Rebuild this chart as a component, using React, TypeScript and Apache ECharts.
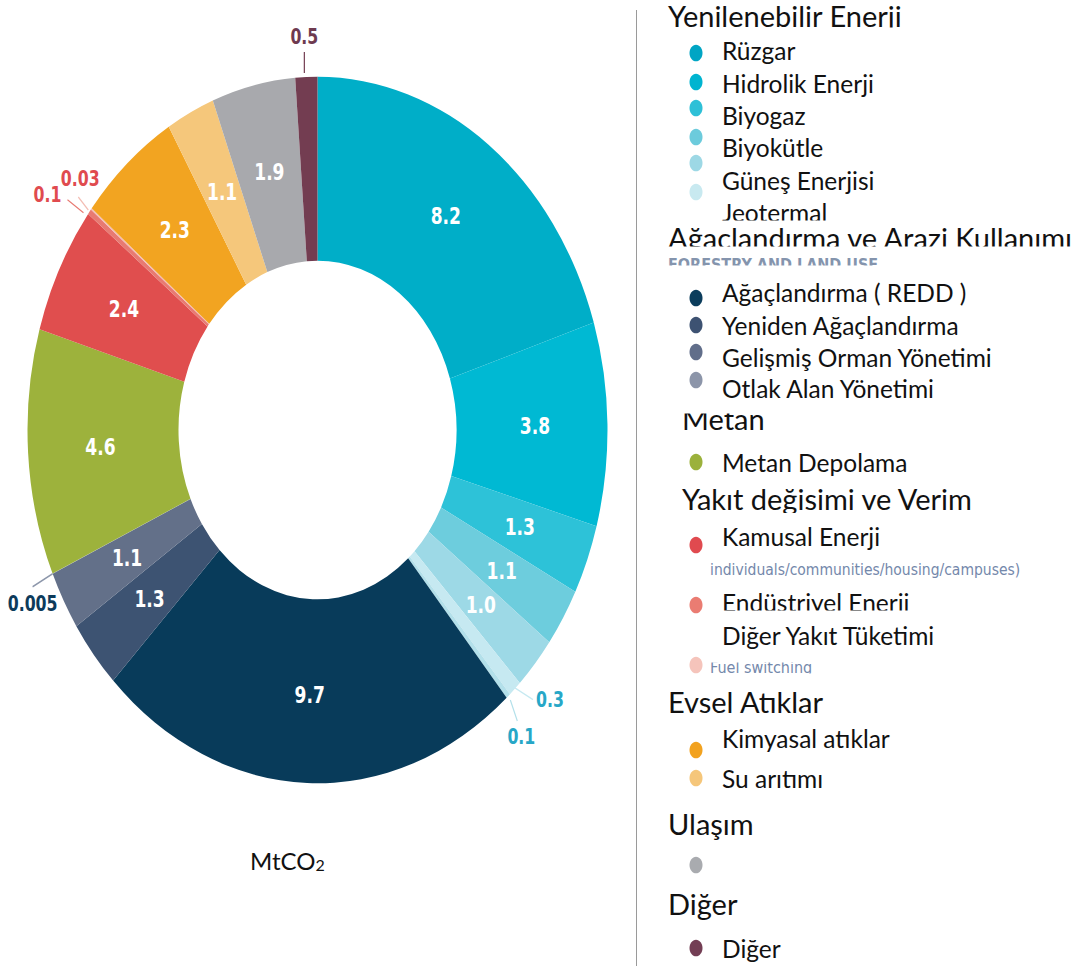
import React, { useEffect, useRef } from "react";
import * as echarts from "echarts";

// ---------------- data ----------------
const sliceNames = [
  "Rüzgar", "Hidrolik Enerji", "Biyogaz", "Biyokütle", "Güneş Enerjisi", "Jeotermal", "Diğer Yenilenebilir",
  "Ağaçlandırma ( REDD )", "Yeniden Ağaçlandırma", "Gelişmiş Orman Yönetimi", "Otlak Alan Yönetimi",
  "Metan Depolama", "Kamusal Enerji", "Endüstriyel Enerji", "Diğer Yakıt Tüketimi",
  "Kimyasal atıklar", "Su arıtımı", "Ulaşım", "Diğer",
];
const sliceValues = [8.2, 3.8, 1.3, 1.1, 1.0, 0.3, 0.1, 9.7, 1.3, 1.1, 0.005, 4.6, 2.4, 0.1, 0.03, 2.3, 1.1, 1.9, 0.5];
const sliceLabels = ["8.2", "3.8", "1.3", "1.1", "1.0", "0.3", "0.1", "9.7", "1.3", "1.1", "0.005", "4.6", "2.4", "0.1", "0.03", "2.3", "1.1", "1.9", "0.5"];
const sliceColors = [
  "#00aec8", "#00b9d3", "#2dc2d8", "#6dcddd", "#9dd9e6", "#c6e9f1", "#b3e0ea",
  "#083b5a", "#3d5372", "#637089", "#8d97ab",
  "#9db23c", "#e04e4e", "#e87a72", "#f3bdb4",
  "#f2a421", "#f5c77b", "#a8a9ad", "#733d51",
];
const outsideLabelColors: (string | null)[] = [
  null, null, null, null, null, "#27a7c7", "#27a7c7",
  null, null, null, "#0d3b5b",
  null, null, "#e04b4f", "#e04b4f",
  null, null, null, "#6e3a50",
];

const groupHeaders = [
  "Yenilenebilir Enerji", "Ağaçlandırma ve Arazi Kullanımı", "Metan", "Yakıt değisimi ve Verim",
  "Evsel Atıklar", "Ulaşım", "Diğer",
];
const legendNames = [
  "Rüzgar", "Hidrolik Enerji", "Biyogaz", "Biyokütle", "Güneş Enerjisi", "Jeotermal",
  "Ağaçlandırma ( REDD )", "Yeniden Ağaçlandırma", "Gelişmiş Orman Yönetimi", "Otlak Alan Yönetimi",
  "Metan Depolama",
  "Kamusal Enerji", "Endüstriyel Enerji", "Diğer Yakıt Tüketimi", "",
  "Kimyasal atıklar", "Su arıtımı",
  "",
  "Diğer",
];
const legendColors: (string | null)[] = [
  "#00a5c4", "#00b4d0", "#2ec0d7", "#6ccbdc", "#9dd8e5", "#c8e9f0",
  "#0b3d5c", "#3d5272", "#616e8a", "#8c95a9",
  "#9bb13b",
  "#e04a4f", "#ea7c72", null, "#f5c4bb",
  "#f2a21f", "#f5c67a",
  "#a9abaf",
  "#733e54",
];
const artifactTexts = ["FORESTRY AND LAND USE", "individuals/communities/housing/campuses)", "Fuel switching"];
const unitMain = "MtCO";
const unitSub = "2";

// ---------------- layout ----------------
const SY = 1.218;
const PIE_W = 640;
const PIE_H = 660;
const CX = 317.5;
const CY = 430 / SY;
const R_IN = 139;
const R_OUT = 290;

const NARROW = "'Liberation Sans Narrow', 'DejaVu Sans Condensed', 'Arial Narrow', Roboto, sans-serif";
const LEG = "Lato, 'Noto Sans', sans-serif";
const HF = 29;
const IF = 24.5;
const K = 0.387;

// offsets (page px) from the library-computed outer edge point of each small slice
const outsideLayout: Record<number, { a: number[]; b: number[]; t: number[]; align: string; va: string }> = {
  5: { a: [-2, -2], b: [18, 11], t: [21, 11], align: "left", va: "middle" },
  6: { a: [2, 4], b: [9, 25], t: [13, 30], align: "center", va: "top" },
  10: { a: [0, 0], b: [-20, 13], t: [-20, 19], align: "center", va: "top" },
  13: { a: [-6, 1], b: [-22, -12], t: [-28, -17], align: "right", va: "middle" },
  14: { a: [-3, 1], b: [-13, -12], t: [-11, -19], align: "center", va: "bottom" },
  18: { a: [-2, -4], b: [-2, -25], t: [-2, -29], align: "center", va: "bottom" },
};

const headerPos = [[668, 27], [668, 249], [682, 430], [682, 510], [668, 713], [668, 835], [668, 915]];
const legendTextBase: (number | null)[] = [60, 93, 125, 157, 190, 222, 302, 335, 367, 398, 472, 546, 612, 645, null, 748, 788, null, 958];
const legendMarkerY: (number | null)[] = [53, 82, 108, 137, 163, 192, 298, 325, 352, 380, 462, 545, 605, null, 665, 750, 778, 865, 948];
const clipRects = [
  [660, 27.5, 428, 10], [712, 220.5, 376, 6], [660, 246.5, 428, 9], [676, 401, 412, 12.5],
  [676, 513, 412, 9], [712, 610.5, 376, 9], [660, 714, 428, 9],
];
const artifactClipRects = [[660, 265.5, 428, 14], [705, 655, 383, 7.5], [705, 673.5, 383, 14]];

function pieOption(): any {
  return {
    animation: false,
    series: [
      {
        type: "pie",
        center: [CX, CY],
        radius: [R_IN, R_OUT],
        startAngle: 90,
        clockwise: true,
        avoidLabelOverlap: false,
        silent: true,
        itemStyle: { borderWidth: 0 },
        label: {
          show: true,
          position: "inside",
          color: "#ffffff",
          fontFamily: NARROW,
          fontWeight: "bold",
          fontSize: 19,
          formatter: (p: any) => sliceLabels[p.dataIndex],
        },
        labelLine: { show: false },
        data: sliceValues.map((v, i) => {
          const d: any = { value: v, name: sliceNames[i], itemStyle: { color: sliceColors[i] } };
          if (outsideLabelColors[i]) {
            d.label = { position: "outside", color: outsideLabelColors[i], fontSize: 17.5 };
            d.labelLine = { show: true, length: 10, length2: 0, lineStyle: { width: 1.2 } };
          }
          return d;
        }),
        labelLayout: (p: any) => {
          const cfg = outsideLayout[p.dataIndex];
          if (!cfg || !p.labelLinePoints) return {};
          const s = p.labelLinePoints[0];
          const pt = (o: number[]) => [s[0] + o[0], s[1] + o[1] / SY];
          const a = pt(cfg.a);
          const b = pt(cfg.b);
          const t = pt(cfg.t);
          return {
            x: t[0],
            y: t[1],
            align: cfg.align,
            verticalAlign: cfg.va,
            labelLinePoints: [a, [(a[0] + b[0]) / 2, (a[1] + b[1]) / 2], b],
          };
        },
      },
    ],
  };
}

function legendOption(): any {
  const g: any[] = [];
  g.push({ type: "line", shape: { x1: 636.5, y1: 10, x2: 636.5, y2: 966 }, style: { stroke: "#9a9a9a", lineWidth: 1 }, z: 1 });
  groupHeaders.forEach((h, i) => {
    g.push({
      type: "text", x: headerPos[i][0], y: headerPos[i][1] - K * HF, z: 5,
      style: { text: h, fontFamily: LEG, fontSize: HF, fill: "#111111", verticalAlign: "middle", align: "left" },
    });
  });
  legendNames.forEach((n, i) => {
    const tb = legendTextBase[i];
    if (n && tb != null) {
      g.push({
        type: "text", x: 722, y: tb - K * IF, z: 5,
        style: { text: n, fontFamily: LEG, fontSize: IF, fill: "#111111", verticalAlign: "middle", align: "left" },
      });
    }
    const my = legendMarkerY[i];
    const c = legendColors[i];
    if (c && my != null) {
      g.push({ type: "ellipse", shape: { cx: 696, cy: my, rx: 6.5, ry: 8.3 }, style: { fill: c }, z: 20 });
    }
  });
  clipRects.forEach((r) => g.push({ type: "rect", shape: { x: r[0], y: r[1], width: r[2], height: r[3] }, style: { fill: "#ffffff" }, z: 10 }));
  // faint artifacts
  g.push({ type: "text", x: 668, y: 264, z: 12, style: { text: artifactTexts[0], fontFamily: NARROW, fontWeight: "bold", fontSize: 16, fill: "#8494ad", verticalAlign: "middle" } });
  g.push({ type: "text", x: 710, y: 570, z: 12, style: { text: artifactTexts[1], fontFamily: NARROW, fontSize: 15.5, fill: "#7488ab", verticalAlign: "middle" } });
  g.push({ type: "text", x: 710, y: 667, z: 12, style: { text: artifactTexts[2], fontFamily: NARROW, fontSize: 16, fill: "#7488ab", verticalAlign: "middle" } });
  artifactClipRects.forEach((r) => g.push({ type: "rect", shape: { x: r[0], y: r[1], width: r[2], height: r[3] }, style: { fill: "#ffffff" }, z: 14 }));
  // unit
  g.push({
    type: "text", x: 250, y: 872, z: 5,
    style: {
      text: `{a|${unitMain}}{b|${unitSub}}`, verticalAlign: "bottom", align: "left",
      rich: {
        a: { fontFamily: LEG, fontSize: 24, fill: "#111111", verticalAlign: "bottom" },
        b: { fontFamily: LEG, fontSize: 16, fill: "#111111", verticalAlign: "bottom" },
      },
    },
  });
  return { animation: false, graphic: g };
}

export default function App() {
  const pieRef = useRef<HTMLDivElement>(null);
  const legRef = useRef<HTMLDivElement>(null);
  useEffect(() => {
    const leg = echarts.init(legRef.current as HTMLDivElement, null, { renderer: "svg" });
    leg.setOption(legendOption());
    const pie = echarts.init(pieRef.current as HTMLDivElement, null, { renderer: "svg" });
    pie.setOption(pieOption());
    return () => {
      pie.dispose();
      leg.dispose();
    };
  }, []);
  return (
    <div style={{ position: "absolute", left: 0, top: 0, width: 1088, height: 970, background: "#ffffff", overflow: "hidden" }}>
      <div ref={legRef} style={{ position: "absolute", left: 0, top: 0, width: 1088, height: 970 }} />
      <div
        ref={pieRef}
        style={{ position: "absolute", left: 0, top: 0, width: PIE_W, height: PIE_H, transform: `scaleY(${SY})`, transformOrigin: "0 0" }}
      />
    </div>
  );
}
